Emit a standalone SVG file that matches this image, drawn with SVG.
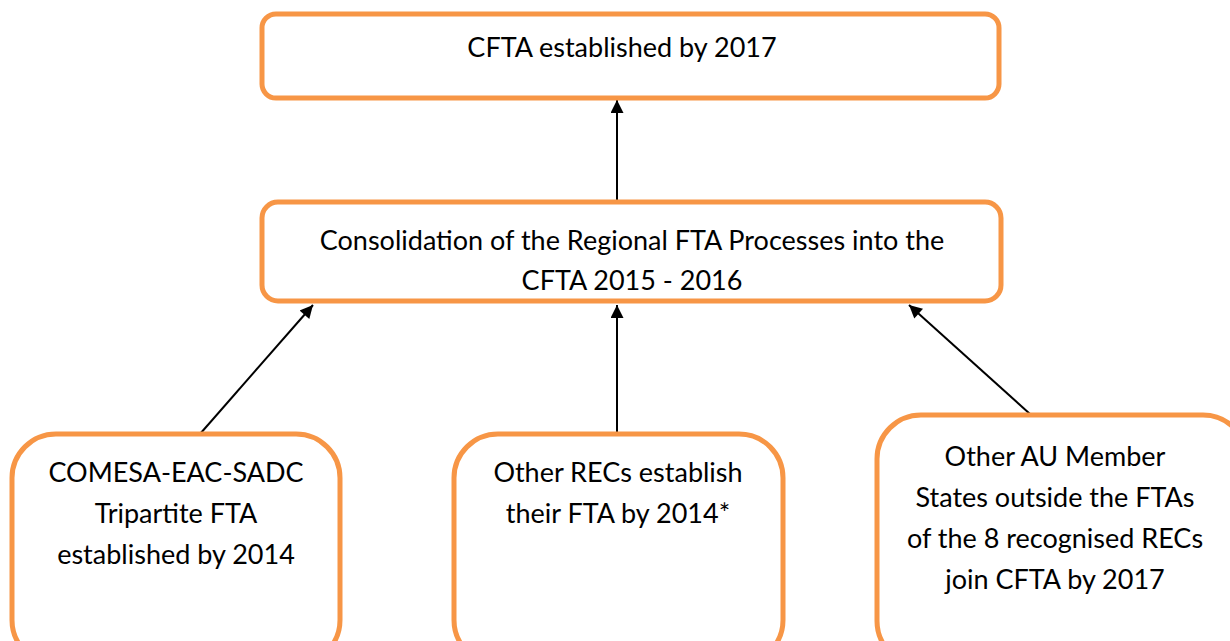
<svg xmlns="http://www.w3.org/2000/svg" width="1230" height="641" viewBox="0 0 1230 641">
  <style>
    .box { fill: #ffffff; stroke: #F79646; stroke-width: 5; }
    .lbl { font-family: Lato, "Open Sans", "Liberation Sans", sans-serif; font-size: 27px; fill: #000000; text-anchor: middle; }
    .conn { stroke: #000000; stroke-width: 2; fill: none; marker-end: url(#arrow); }
  </style>
  <defs>
    <marker id="arrow" viewBox="0 0 10 10" refX="10" refY="5" markerWidth="15" markerHeight="13" markerUnits="userSpaceOnUse" orient="auto">
      <path d="M0,0 L10,5 L0,10 z" fill="#000000"/>
    </marker>
  </defs>

  <g id="connectors">
    <line class="conn" x1="617" y1="200" x2="617" y2="100"/>
    <line class="conn" x1="200" y1="434" x2="313" y2="305"/>
    <line class="conn" x1="617" y1="432" x2="617" y2="305"/>
    <line class="conn" x1="1030" y1="414" x2="909" y2="305"/>
  </g>

  <g id="node-cfta">
    <rect class="box" x="262" y="14" width="737" height="84" rx="14"/>
    <text class="lbl" x="622" y="57">CFTA established by 2017</text>
  </g>

  <g id="node-consolidation">
    <rect class="box" x="262" y="202" width="739" height="99" rx="16"/>
    <text class="lbl" x="632" y="250">Consolidation of the Regional FTA Processes into the</text>
    <text class="lbl" x="632" y="290">CFTA 2015 - 2016</text>
  </g>

  <g id="node-tripartite">
    <rect class="box" x="12" y="434" width="328" height="230" rx="44"/>
    <text class="lbl" x="176" y="482">COMESA-EAC-SADC</text>
    <text class="lbl" x="176" y="523">Tripartite FTA</text>
    <text class="lbl" x="176" y="564">established by 2014</text>
  </g>

  <g id="node-other-recs">
    <rect class="box" x="454" y="434" width="329" height="230" rx="44"/>
    <text class="lbl" x="618" y="482">Other RECs establish</text>
    <text class="lbl" x="618" y="523">their FTA by 2014*</text>
  </g>

  <g id="node-au-members">
    <rect class="box" x="877" y="415" width="370" height="250" rx="44"/>
    <text class="lbl" x="1055" y="466">Other AU Member</text>
    <text class="lbl" x="1055" y="507">States outside the FTAs</text>
    <text class="lbl" x="1055" y="548">of the 8 recognised RECs</text>
    <text class="lbl" x="1055" y="589">join CFTA by 2017</text>
  </g>
</svg>
